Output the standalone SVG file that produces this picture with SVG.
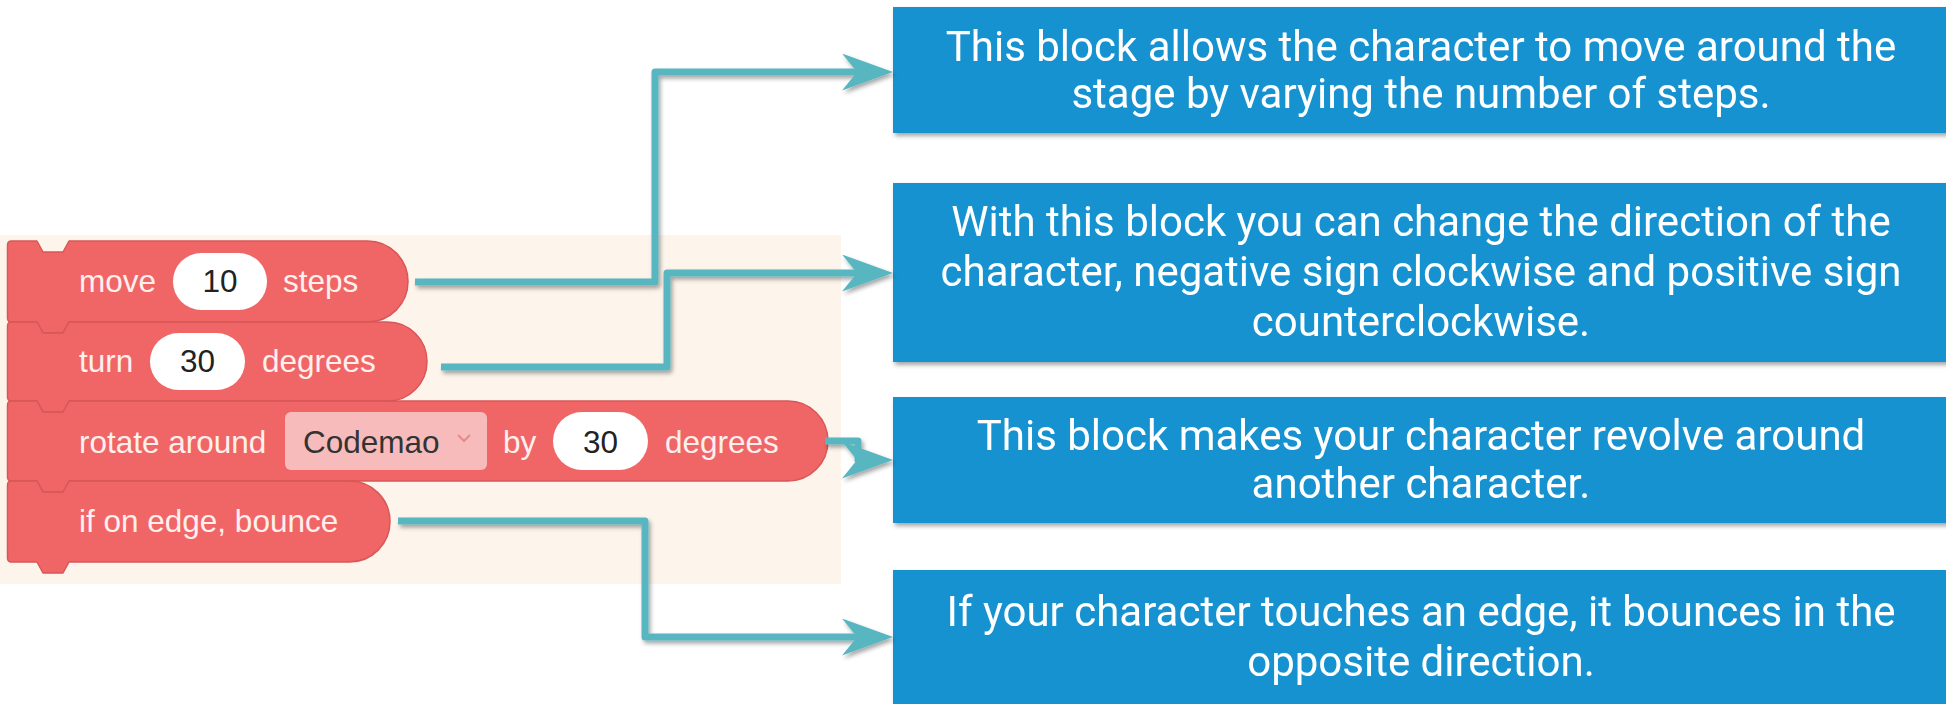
<svg xmlns="http://www.w3.org/2000/svg" width="1946" height="704" viewBox="0 0 1946 704">
  <style>
    .blk { fill: #F06666; stroke: #D85757; stroke-width: 1.5; stroke-linejoin: round; }
    .lbl { font-family: "Liberation Sans", Arial, sans-serif; font-size: 31.5px; fill: #FFF0EE; }
    .num { font-family: "Liberation Sans", Arial, sans-serif; font-size: 31.5px; fill: #222222; text-anchor: middle; }
    .slot { fill: #FFFFFF; }
    .dd { fill: #F8BBBB; }
    .box { fill: #1592D0; }
    .note { font-family: Roboto, "Noto Sans", sans-serif; font-size: 42px; fill: #FFFFFF; text-anchor: middle; }
    .conn { fill: none; stroke: #58B6C1; stroke-width: 7; stroke-linejoin: round; stroke-linecap: butt; }
  </style>
  <defs>
    <filter id="shadow" x="-10%" y="-10%" width="120%" height="130%">
      <feDropShadow dx="2" dy="3" stdDeviation="2" flood-color="#000000" flood-opacity="0.35"/>
    </filter>
    <marker id="arrow" viewBox="0 0 51 37" refX="33" refY="18.5" markerWidth="51" markerHeight="37" markerUnits="userSpaceOnUse" orient="auto">
      <path d="M0,0 L51,18.5 L0,37 L15,18.5 Z" fill="#58B6C1"/>
    </marker>
  </defs>

  <rect width="1946" height="704" fill="#FFFFFF"/>

  <!-- workspace panel behind the code blocks -->
  <rect id="workspace" x="0" y="235" width="841" height="349" fill="#FDF5EC"/>

  <!-- code blocks -->
  <g id="block-move">
    <path class="blk" d="M7.5,245 Q7.5,241 11.5,241 H37 L43,252 H63 L69,241 H367.5 A40.5,40.5 0 0 1 367.5,322 H69 L63,333 H43 L37,322 H11.5 Q7.5,322 7.5,318 Z"/>
    <text class="lbl" x="79" y="292">move</text>
    <rect class="slot" x="173" y="253" width="94" height="57" rx="28.5"/>
    <text class="num" x="220" y="292">10</text>
    <text class="lbl" x="283" y="292">steps</text>
  </g>

  <g id="block-turn">
    <path class="blk" d="M7.5,326 Q7.5,322 11.5,322 H37 L43,333 H63 L69,322 H387.5 A39.5,39.5 0 0 1 387.5,401 H69 L63,412 H43 L37,401 H11.5 Q7.5,401 7.5,397 Z"/>
    <text class="lbl" x="79" y="372">turn</text>
    <rect class="slot" x="150" y="333" width="95" height="57" rx="28.5"/>
    <text class="num" x="197.5" y="372">30</text>
    <text class="lbl" x="262" y="372">degrees</text>
  </g>

  <g id="block-rotate">
    <path class="blk" d="M7.5,405 Q7.5,401 11.5,401 H37 L43,412 H63 L69,401 H788 A40,40 0 0 1 788,481 H69 L63,492 H43 L37,481 H11.5 Q7.5,481 7.5,477 Z"/>
    <text class="lbl" x="79" y="453">rotate around</text>
    <rect class="dd" x="285" y="412" width="202" height="58" rx="6"/>
    <text x="303" y="453" font-family="Liberation Sans, Arial, sans-serif" font-size="31.5" fill="#333333">Codemao</text>
    <polyline points="458,435 464,441 470,435" fill="none" stroke="#E68A8A" stroke-width="2"/>
    <text class="lbl" x="503" y="453">by</text>
    <rect class="slot" x="553" y="412" width="95" height="58" rx="29"/>
    <text class="num" x="600.5" y="453">30</text>
    <text class="lbl" x="665" y="453">degrees</text>
  </g>

  <g id="block-bounce">
    <path class="blk" d="M7.5,485 Q7.5,481 11.5,481 H37 L43,492 H63 L69,481 H349.5 A40.5,40.5 0 0 1 349.5,562 H69 L63,573 H43 L37,562 H11.5 Q7.5,562 7.5,558 Z"/>
    <text class="lbl" x="79" y="532">if on edge, bounce</text>
  </g>

  <!-- description boxes -->
  <g id="note-move" filter="url(#shadow)">
    <rect class="box" x="893" y="7" width="1060" height="126"/>
    <text class="note" x="1421" y="61">This block allows the character to move around the</text>
    <text class="note" x="1421" y="108">stage by varying the number of steps.</text>
  </g>

  <g id="note-turn" filter="url(#shadow)">
    <rect class="box" x="893" y="183" width="1060" height="179"/>
    <text class="note" x="1421" y="236">With this block you can change the direction of the</text>
    <text class="note" x="1421" y="286">character, negative sign clockwise and positive sign</text>
    <text class="note" x="1421" y="336">counterclockwise.</text>
  </g>

  <g id="note-rotate" filter="url(#shadow)">
    <rect class="box" x="893" y="397" width="1060" height="126"/>
    <text class="note" x="1421" y="450">This block makes your character revolve around</text>
    <text class="note" x="1421" y="498">another character.</text>
  </g>

  <g id="note-bounce" filter="url(#shadow)">
    <rect class="box" x="893" y="570" width="1060" height="150"/>
    <text class="note" x="1421" y="626">If your character touches an edge, it bounces in the</text>
    <text class="note" x="1421" y="676">opposite direction.</text>
  </g>

  <!-- connectors from each block to its description -->
  <g id="connectors" filter="url(#shadow)">
    <path class="conn" d="M415,282 H655 V72 H875" marker-end="url(#arrow)"/>
    <path class="conn" d="M441,367 H667 V273 H875" marker-end="url(#arrow)"/>
    <path class="conn" d="M825,441 H858 V460 H875" marker-end="url(#arrow)"/>
    <path class="conn" d="M398,521 H645 V637 H875" marker-end="url(#arrow)"/>
  </g>
</svg>
